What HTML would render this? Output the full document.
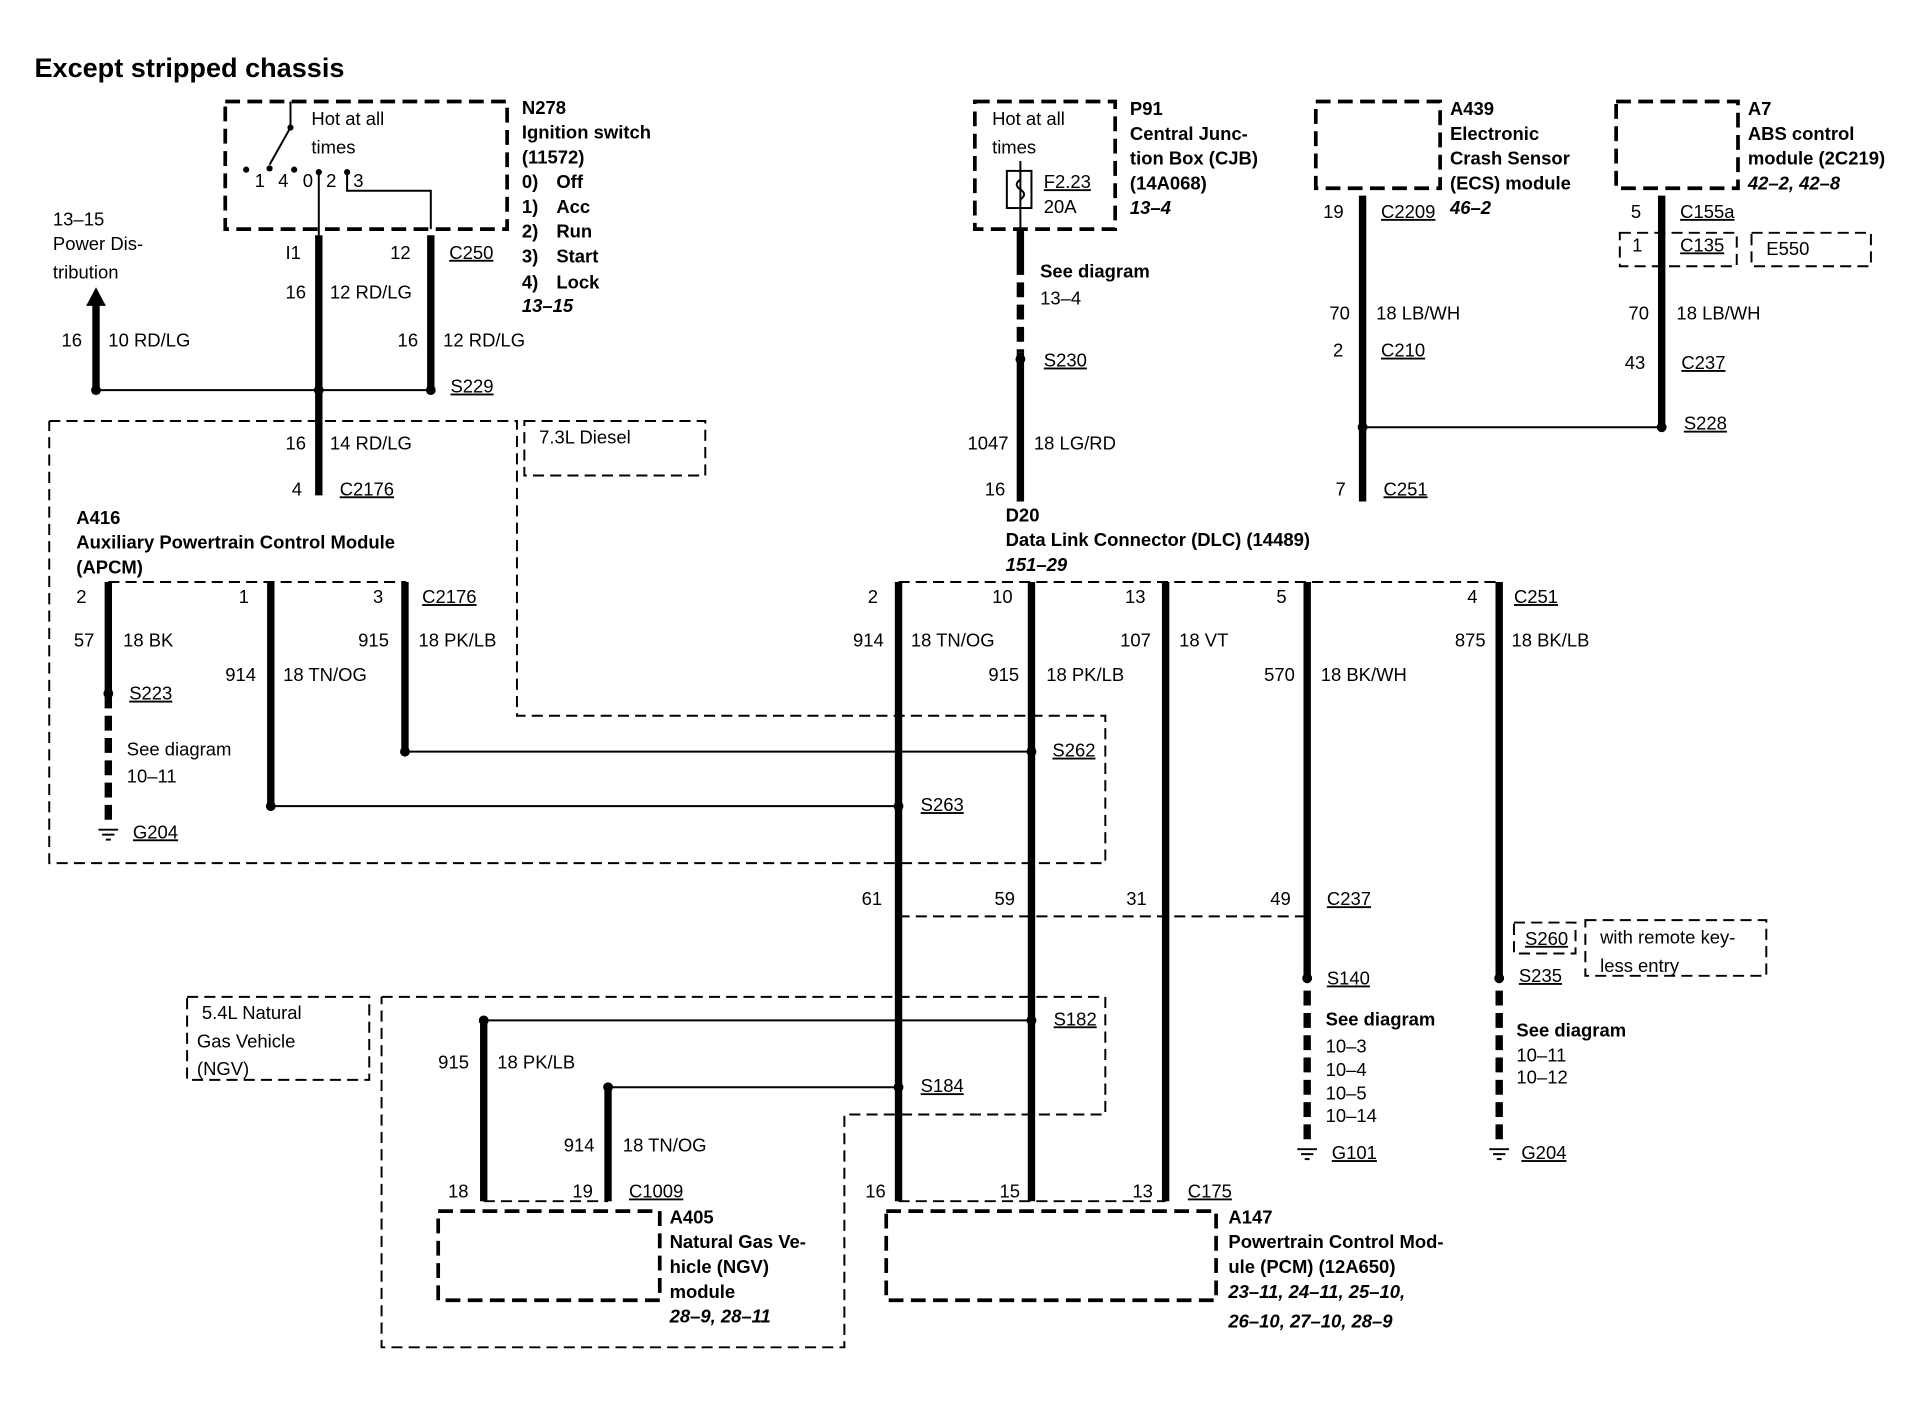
<!DOCTYPE html>
<html><head><meta charset="utf-8"><style>
html,body{margin:0;padding:0;background:#fff}
svg{display:block}
text{font-family:"Liberation Sans",sans-serif;font-size:15px;fill:#000}
.b{font-weight:bold}
.i{font-style:italic;font-weight:bold}
.u{text-decoration:underline}
.w{stroke:#000;stroke-width:6;fill:none}
.t{stroke:#000;stroke-width:1.6;fill:none}
.d{stroke:#000;stroke-width:1.6;fill:none;stroke-dasharray:9 5}
.dk{stroke:#000;stroke-width:3;fill:none;stroke-dasharray:12 6}
</style></head><body>
<svg width="1930" height="1408" viewBox="0 0 1568 1137" preserveAspectRatio="none" xmlns="http://www.w3.org/2000/svg">
<text x="28" y="62" class="b" style="font-size:22px">Except stripped chassis</text>

<!-- N278 -->
<rect x="183" y="82" width="229" height="103" class="dk"/>
<text x="253" y="101">Hot at all</text><text x="253" y="124">times</text>
<polyline points="236,82 236,103 219,133" class="t"/>
<circle cx="236" cy="103" r="2.5"/>
<circle cx="200" cy="137" r="2.5"/><circle cx="219" cy="136" r="2.5"/><circle cx="239" cy="137" r="2.5"/><circle cx="259" cy="139" r="2.5"/><circle cx="282" cy="139" r="2.5"/>
<text x="207" y="151">1</text><text x="226" y="151">4</text><text x="246" y="151">0</text><text x="265" y="151">2</text><text x="287" y="151">3</text>
<line x1="259" y1="139" x2="259" y2="190" class="t"/>
<polyline points="282,139 282,154 350,154 350,185" class="t"/>
<text x="424" y="92" class="b">N278</text><text x="424" y="112" class="b">Ignition switch</text><text x="424" y="132" class="b">(11572)</text>
<text x="424" y="152" class="b">0)</text><text x="452" y="152" class="b">Off</text>
<text x="424" y="172" class="b">1)</text><text x="452" y="172" class="b">Acc</text>
<text x="424" y="192" class="b">2)</text><text x="452" y="192" class="b">Run</text>
<text x="424" y="212" class="b">3)</text><text x="452" y="212" class="b">Start</text>
<text x="424" y="233" class="b">4)</text><text x="452" y="233" class="b">Lock</text>
<text x="424" y="252" class="i">13–15</text>

<line x1="259" y1="190" x2="259" y2="400" class="w"/>
<line x1="350" y1="190" x2="350" y2="315" class="w"/>
<line x1="78" y1="245" x2="78" y2="315" class="w"/>
<polygon points="70,247 86,247 78,232"/>
<line x1="78" y1="315" x2="350" y2="315" class="t"/>
<circle cx="78" cy="315" r="4"/><circle cx="259" cy="315" r="4"/><circle cx="350" cy="315" r="4"/>
<text x="232" y="209">I1</text><text x="317" y="209">12</text><text x="365" y="209" class="u">C250</text>
<text x="232" y="241">16</text><text x="268" y="241">12 RD/LG</text>
<text x="50" y="280">16</text><text x="88" y="280">10 RD/LG</text>
<text x="323" y="280">16</text><text x="360" y="280">12 RD/LG</text>
<text x="366" y="317" class="u">S229</text>
<text x="43" y="182">13–15</text><text x="43" y="202">Power Dis-</text><text x="43" y="225">tribution</text>

<!-- APCM region -->
<polyline points="40,340 420,340 420,578 898,578 898,697 40,697 40,340" class="d"/>
<rect x="426" y="340" width="147" height="44" class="d"/>
<text x="438" y="358">7.3L Diesel</text>
<text x="232" y="363">16</text><text x="268" y="363">14 RD/LG</text>
<text x="237" y="400">4</text><text x="276" y="400" class="u">C2176</text>
<text x="62" y="423" class="b">A416</text><text x="62" y="443" class="b">Auxiliary Powertrain Control Module</text><text x="62" y="463" class="b">(APCM)</text>
<line x1="88" y1="470" x2="330" y2="470" class="d"/>
<line x1="88" y1="470" x2="88" y2="560" class="w"/>
<line x1="88" y1="560" x2="88" y2="668" class="w" style="stroke-dasharray:12 6"/>
<circle cx="88" cy="560" r="4"/>
<line x1="80" y1="670" x2="96" y2="670" class="t"/><line x1="83" y1="674" x2="93" y2="674" class="t"/><line x1="86" y1="678" x2="90" y2="678" class="t"/>
<line x1="220" y1="470" x2="220" y2="651" class="w"/>
<line x1="329" y1="470" x2="329" y2="607" class="w"/>
<text x="62" y="487">2</text><text x="194" y="487">1</text><text x="303" y="487">3</text><text x="343" y="487" class="u">C2176</text>
<text x="60" y="522">57</text><text x="100" y="522">18 BK</text>
<text x="183" y="550">914</text><text x="230" y="550">18 TN/OG</text>
<text x="291" y="522">915</text><text x="340" y="522">18 PK/LB</text>
<text x="105" y="565" class="u">S223</text>
<text x="103" y="610">See diagram</text><text x="103" y="632">10–11</text><text x="108" y="677" class="u">G204</text>
<line x1="329" y1="607" x2="838" y2="607" class="t"/><circle cx="329" cy="607" r="4"/><circle cx="838" cy="607" r="4"/>
<line x1="220" y1="651" x2="730" y2="651" class="t"/><circle cx="220" cy="651" r="4"/><circle cx="730" cy="651" r="4"/>
<text x="855" y="611" class="u">S262</text><text x="748" y="655" class="u">S263</text>

<!-- P91 -->
<rect x="792" y="82" width="114" height="103" class="dk"/>
<text x="806" y="101">Hot at all</text><text x="806" y="124">times</text>
<rect x="818" y="138" width="20" height="30" class="t"/>
<line x1="829" y1="130" x2="829" y2="185" class="t"/>
<path d="M829,145 q-6,4 0,8 q6,4 0,8" class="t"/>
<text x="848" y="152" class="u">F2.23</text><text x="848" y="172">20A</text>
<text x="918" y="93" class="b">P91</text><text x="918" y="113" class="b">Central Junc-</text><text x="918" y="133" class="b">tion Box (CJB)</text><text x="918" y="153" class="b">(14A068)</text><text x="918" y="173" class="i">13–4</text>
<line x1="829" y1="185" x2="829" y2="210" class="w"/>
<line x1="829" y1="210" x2="829" y2="285" class="w" style="stroke-dasharray:12 6"/>
<line x1="829" y1="285" x2="829" y2="405" class="w"/>
<circle cx="829" cy="290" r="4"/>
<text x="845" y="224" class="b">See diagram</text><text x="845" y="246">13–4</text><text x="848" y="296" class="u">S230</text>
<text x="786" y="363">1047</text><text x="840" y="363">18 LG/RD</text><text x="800" y="400">16</text>
<text x="817" y="421" class="b">D20</text><text x="817" y="441" class="b">Data Link Connector (DLC) (14489)</text><text x="817" y="461" class="i">151–29</text>

<!-- A439 -->
<rect x="1069" y="82" width="101" height="70" class="dk"/>
<text x="1178" y="93" class="b">A439</text><text x="1178" y="113" class="b">Electronic</text><text x="1178" y="133" class="b">Crash Sensor</text><text x="1178" y="153" class="b">(ECS) module</text><text x="1178" y="173" class="i">46–2</text>
<line x1="1107" y1="158" x2="1107" y2="405" class="w"/>
<line x1="1107" y1="345" x2="1350" y2="345" class="t"/><circle cx="1107" cy="345" r="4"/><circle cx="1350" cy="345" r="4"/>
<text x="1075" y="176">19</text><text x="1122" y="176" class="u">C2209</text>
<text x="1080" y="258">70</text><text x="1118" y="258">18 LB/WH</text>
<text x="1083" y="288">2</text><text x="1122" y="288" class="u">C210</text>
<text x="1085" y="400">7</text><text x="1124" y="400" class="u">C251</text>

<!-- A7 -->
<rect x="1313" y="82" width="99" height="70" class="dk"/>
<text x="1420" y="93" class="b">A7</text><text x="1420" y="113" class="b">ABS control</text><text x="1420" y="133" class="b">module (2C219)</text><text x="1420" y="153" class="i">42–2, 42–8</text>
<line x1="1350" y1="158" x2="1350" y2="345" class="w"/>
<text x="1325" y="176">5</text><text x="1365" y="176" class="u">C155a</text>
<rect x="1316" y="188" width="95" height="27" class="d"/><text x="1326" y="203">1</text><text x="1365" y="203" class="u">C135</text>
<rect x="1423" y="188" width="97" height="27" class="d"/><text x="1435" y="206">E550</text>
<text x="1323" y="258">70</text><text x="1362" y="258">18 LB/WH</text>
<text x="1320" y="298">43</text><text x="1366" y="298" class="u">C237</text>
<text x="1368" y="347" class="u">S228</text>

<!-- DLC wires -->
<line x1="730" y1="470" x2="1218" y2="470" class="d"/>
<line x1="730" y1="470" x2="730" y2="970" class="w"/>
<line x1="838" y1="470" x2="838" y2="970" class="w"/>
<line x1="947" y1="470" x2="947" y2="970" class="w"/>
<line x1="1062" y1="470" x2="1062" y2="790" class="w"/>
<line x1="1062" y1="800" x2="1062" y2="925" class="w" style="stroke-dasharray:12 6"/>
<circle cx="1062" cy="790" r="4"/>
<line x1="1054" y1="928" x2="1070" y2="928" class="t"/><line x1="1057" y1="932" x2="1067" y2="932" class="t"/><line x1="1060" y1="936" x2="1064" y2="936" class="t"/>
<line x1="1218" y1="470" x2="1218" y2="790" class="w"/>
<line x1="1218" y1="800" x2="1218" y2="925" class="w" style="stroke-dasharray:12 6"/>
<circle cx="1218" cy="790" r="4"/>
<line x1="1210" y1="928" x2="1226" y2="928" class="t"/><line x1="1213" y1="932" x2="1223" y2="932" class="t"/><line x1="1216" y1="936" x2="1220" y2="936" class="t"/>
<text x="705" y="487">2</text><text x="806" y="487">10</text><text x="914" y="487">13</text><text x="1037" y="487">5</text><text x="1192" y="487">4</text><text x="1230" y="487" class="u">C251</text>
<text x="693" y="522">914</text><text x="740" y="522">18 TN/OG</text>
<text x="910" y="522">107</text><text x="958" y="522">18 VT</text>
<text x="1182" y="522">875</text><text x="1228" y="522">18 BK/LB</text>
<text x="803" y="550">915</text><text x="850" y="550">18 PK/LB</text>
<text x="1027" y="550">570</text><text x="1073" y="550">18 BK/WH</text>
<line x1="730" y1="740" x2="1062" y2="740" class="d"/>
<text x="700" y="731">61</text><text x="808" y="731">59</text><text x="915" y="731">31</text><text x="1032" y="731">49</text><text x="1078" y="731" class="u">C237</text>
<text x="1078" y="795" class="u">S140</text><text x="1077" y="828" class="b">See diagram</text><text x="1077" y="850">10–3</text><text x="1077" y="869">10–4</text><text x="1077" y="888">10–5</text><text x="1077" y="906">10–14</text><text x="1082" y="936" class="u">G101</text>
<rect x="1230" y="745" width="50" height="25" class="d"/><text x="1239" y="763" class="u">S260</text>
<rect x="1288" y="743" width="147" height="45" class="d"/><text x="1300" y="762">with remote key-</text><text x="1300" y="785">less entry</text>
<text x="1234" y="793" class="u">S235</text>
<text x="1232" y="837" class="b">See diagram</text><text x="1232" y="857">10–11</text><text x="1232" y="875">10–12</text><text x="1236" y="936" class="u">G204</text>

<!-- NGV region -->
<polyline points="310,805 898,805 898,900 686,900 686,1088 310,1088 310,805" class="d"/>
<rect x="152" y="805" width="148" height="67" class="d"/>
<text x="164" y="823">5.4L Natural</text><text x="160" y="846">Gas Vehicle</text><text x="160" y="868">(NGV)</text>
<line x1="393" y1="824" x2="838" y2="824" class="t"/><circle cx="393" cy="824" r="4"/><circle cx="838" cy="824" r="4"/>
<line x1="494" y1="878" x2="730" y2="878" class="t"/><circle cx="494" cy="878" r="4"/><circle cx="730" cy="878" r="4"/>
<text x="856" y="828" class="u">S182</text><text x="748" y="882" class="u">S184</text>
<line x1="393" y1="824" x2="393" y2="970" class="w"/>
<line x1="494" y1="878" x2="494" y2="970" class="w"/>
<text x="356" y="863">915</text><text x="404" y="863">18 PK/LB</text>
<text x="458" y="930">914</text><text x="506" y="930">18 TN/OG</text>
<text x="364" y="967">18</text><text x="465" y="967">19</text><text x="511" y="967" class="u">C1009</text>
<line x1="393" y1="970" x2="494" y2="970" class="d"/>
<rect x="356" y="978" width="180" height="72" class="dk"/>
<text x="544" y="988" class="b">A405</text><text x="544" y="1008" class="b">Natural Gas Ve-</text><text x="544" y="1028" class="b">hicle (NGV)</text><text x="544" y="1048" class="b">module</text><text x="544" y="1068" class="i">28–9, 28–11</text>

<!-- PCM -->
<line x1="730" y1="970" x2="947" y2="970" class="d"/>
<text x="703" y="967">16</text><text x="812" y="967">15</text><text x="920" y="967">13</text><text x="965" y="967" class="u">C175</text>
<rect x="720" y="978" width="268" height="72" class="dk"/>
<text x="998" y="988" class="b">A147</text><text x="998" y="1008" class="b">Powertrain Control Mod-</text><text x="998" y="1028" class="b">ule (PCM) (12A650)</text><text x="998" y="1048" class="i">23–11, 24–11, 25–10,</text><text x="998" y="1072" class="i">26–10, 27–10, 28–9</text>
</svg>
</body></html>
